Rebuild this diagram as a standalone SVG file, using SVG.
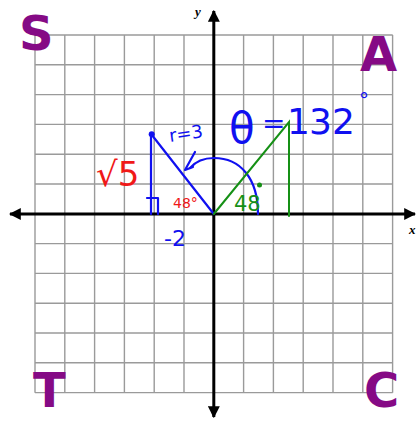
<svg xmlns="http://www.w3.org/2000/svg" width="416" height="421" viewBox="0 0 416 421">
<style>
.grid{stroke:#9a9a9a;stroke-width:1.4;fill:none}
.axis{stroke:#000;stroke-width:3;fill:none}
.blue{stroke:#1010f0;stroke-width:2.2;fill:none;stroke-linecap:round;stroke-linejoin:round}
.green{stroke:#159015;stroke-width:2;fill:none;stroke-linecap:round}
.lbl{font-family:"Liberation Serif",serif;font-style:italic;font-weight:bold;font-size:13px;fill:#000}
.quad{font-family:"DejaVu Sans",sans-serif;font-weight:bold;font-size:48px;fill:#850a85}
.hb{font-family:"DejaVu Sans",sans-serif;fill:#1010f0}
.hr{font-family:"DejaVu Sans",sans-serif;fill:#f01818}
.hg{font-family:"DejaVu Sans",sans-serif;fill:#159015}
</style>
<defs>
<marker id="ah" viewBox="0 0 10 10" refX="9" refY="5" markerWidth="4" markerHeight="4" orient="auto" markerUnits="strokeWidth">
<path d="M0,0 L10,5 L0,10 Z" fill="#000"/>
</marker>
</defs>
<rect width="416" height="421" fill="#fff"/>
<g id="grid">
<path class="grid" d="M35,35V392.7 M64.8,35V392.7 M94.6,35V392.7 M124.4,35V392.7 M154.2,35V392.7 M184,35V392.7 M243.6,35V392.7 M273.4,35V392.7 M303.2,35V392.7 M333,35V392.7 M362.8,35V392.7 M392.6,35V392.7"/>
<path class="grid" d="M35,35H392.7 M35,64.8H392.7 M35,94.6H392.7 M35,124.4H392.7 M35,154.2H392.7 M35,184H392.7 M35,243.6H392.7 M35,273.4H392.7 M35,303.2H392.7 M35,333H392.7 M35,362.8H392.7 M35,392.6H392.7"/>
</g>
<g id="axes">
<line class="axis" x1="213.8" y1="214" x2="10" y2="214" marker-end="url(#ah)"/>
<line class="axis" x1="213.8" y1="214" x2="415" y2="214" marker-end="url(#ah)"/>
<line class="axis" x1="213.8" y1="214" x2="213.8" y2="11" marker-end="url(#ah)"/>
<line class="axis" x1="213.8" y1="214" x2="213.8" y2="417" marker-end="url(#ah)"/>
<text class="lbl" x="195" y="16">y</text>
<text class="lbl" x="409" y="234">x</text>
</g>
<g id="quadrants">
<text class="quad" x="19" y="50">S</text>
<text class="quad" x="360" y="71">A</text>
<text class="quad" x="33" y="407" font-size="46">T</text>
<text class="quad" x="364" y="407" font-size="46">C</text>
</g>
<g id="connectors">
<path class="blue" d="M151.5,134.5 L213.8,214"/>
<path class="blue" d="M151,137 V214"/>
<path class="blue" d="M147,198 H158 V214"/>
<circle cx="151.7" cy="134.3" r="3" fill="#1010f0"/>
<path class="blue" d="M190,168 C196,161 204,158 214,158 C240,158 258,178 258,214"/>
<path class="blue" d="M195,152 L185,170 L193,167"/>
<path class="green" d="M213.8,214 L289,122 V216"/>
<circle cx="259.5" cy="185" r="2.5" fill="#159015"/>
</g>
<g id="labels">
<text class="hb" font-size="18" transform="translate(170,142) rotate(-8)">r=3</text>
<text class="hr" font-size="34" x="96" y="186">√5</text>
<text class="hr" font-size="14" x="173" y="208">48°</text>
<text class="hg" font-size="21" x="234" y="211">48</text>
<text class="hb" font-size="22" x="164" y="246">-2</text>
<text class="hb" x="229" y="143"><tspan font-size="42">θ</tspan><tspan font-size="28" x="262" y="133">=</tspan><tspan font-size="36" x="287" y="134">1</tspan><tspan font-size="36" x="309" y="134">32</tspan><tspan font-size="20" x="359" y="107">°</tspan></text>
</g>
</svg>
